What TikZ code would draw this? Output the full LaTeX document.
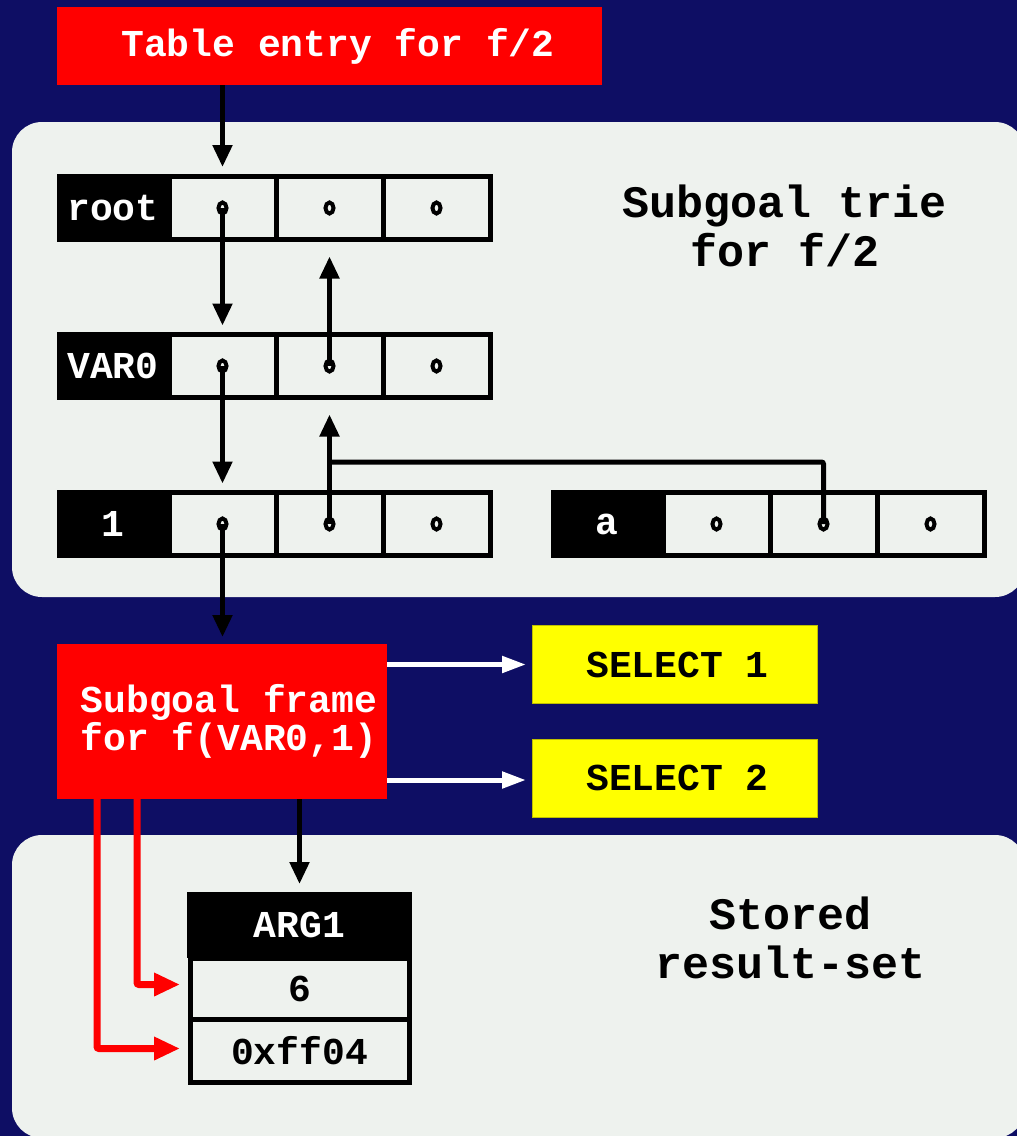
\documentclass[tikz,border=0pt]{standalone}
\usepackage{fontspec}
\setmonofont{Liberation Mono}
\usetikzlibrary{arrows.meta,calc}
\definecolor{navy}{HTML}{0E0E64}
\definecolor{panel}{HTML}{EEF2EE}
\definecolor{boxred}{HTML}{FF0000}
\definecolor{boxyellow}{HTML}{FFFF00}

\begin{document}
\begin{tikzpicture}[x=1pt,y=-1pt,
  txt/.style={font=\fontsize{38}{38}\selectfont\ttfamily\bfseries},
  bigtxt/.style={font=\fontsize{45}{49}\selectfont\ttfamily\bfseries, align=center, text=black},
  cellbox/.style={draw=black, line width=5pt, fill=panel, minimum width=107pt,
    minimum height=63pt, inner sep=0pt, outer sep=0pt},
  keylabel/.style={fill=black, text=white, txt, minimum width=112pt,
    minimum height=68pt, inner sep=0pt, outer sep=0pt},
  redbox/.style={fill=boxred, text=white, txt, inner sep=0pt, outer sep=0pt},
  yellowbox/.style={fill=boxyellow, draw=boxyellow!75!black, line width=0.8pt, text=black, txt,
    minimum width=285pt, minimum height=78pt, inner sep=0pt, outer sep=0pt},
  link/.style={draw=black, line width=5pt, -{Triangle[length=22pt,width=19pt]}},
  plainlink/.style={draw=black, line width=5pt, rounded corners=2pt},
  whitelink/.style={draw=white, line width=5pt, -{Triangle[length=24pt,width=16pt]}},
  redlink/.style={draw=boxred, line width=7pt, rounded corners=2pt, -{Triangle[length=26pt,width=22pt]}},
  dotmark/.style={draw=black, line width=4pt}
]
\useasboundingbox (0,0) rectangle (1017,1136);
\clip (0,0) rectangle (1017,1136);
\fill[navy] (0,0) rectangle (1017,1136);

% background panels
\fill[panel, rounded corners=30pt] (12,122) rectangle (1025,597);
\fill[panel, rounded corners=30pt] (12,835) rectangle (1025,1138);

% table entry
\node[redbox, minimum width=545pt, minimum height=78pt] (title) at (329.5,46)
  {\hspace*{17pt}Table entry for f/2};

% subgoal trie rows
\node[keylabel] (r1l) at (113,208) {root};
\node[cellbox] (r1a) at (222.5,208) {};
\node[cellbox] (r1b) at (329.5,208) {};
\node[cellbox] (r1c) at (436.5,208) {};

\node[keylabel] (r2l) at (113,366) {VAR0};
\node[cellbox] (r2a) at (222.5,366) {};
\node[cellbox] (r2b) at (329.5,366) {};
\node[cellbox] (r2c) at (436.5,366) {};

\node[keylabel] (r3l) at (113,524) {1};
\node[cellbox] (r3a) at (222.5,524) {};
\node[cellbox] (r3b) at (329.5,524) {};
\node[cellbox] (r3c) at (436.5,524) {};

\node[keylabel] (al) at (607,524) {a};
\node[cellbox] (aa) at (716.5,524) {};
\node[cellbox] (ab) at (823.5,524) {};
\node[cellbox] (ac) at (930.5,524) {};

\node[bigtxt] (trietxt) at (785,226) {Subgoal trie\\for f/2};

% subgoal frame and answer selectors
\node[redbox, minimum width=330pt, minimum height=155pt, align=left] (frame) at (222,721.5)
  {\hspace*{14pt}Subgoal frame\\\hspace*{14pt}for f(VAR0,1)};
\node[yellowbox] (sel1) at (674.5,664.5) {\hspace*{6pt}SELECT 1};
\node[yellowbox] (sel2) at (674.5,778) {\hspace*{6pt}SELECT 2};

% stored result set
\node[fill=black, text=white, txt, minimum width=225pt, minimum height=66pt,
  inner sep=0pt, outer sep=0pt] (arghead) at (299.5,925) {ARG1};
\node[cellbox, minimum width=219pt, minimum height=61pt, text=black, txt] (arg1) at (299.5,988.5) {6};
\node[cellbox, minimum width=219pt, minimum height=63pt, text=black, txt] (arg2) at (299.5,1050.5) {0xff04};
\node[bigtxt] (resulttxt) at (791,938) {Stored\\result-set};

% trie links
\draw[link, shorten >=9.5pt] (title.south -| r1a.center) -- (r1a.north);
\draw[link, shorten >=9pt] (r1a.center) -- (r2a.north);
\draw[link, shorten >=9pt] (r2a.center) -- (r3a.north);
\draw[link, shorten >=17pt] (r2b.center) -- (r1b.south);
\draw[link, shorten >=17pt] (r3b.center) -- (r2b.south);
\draw[plainlink] (ab.center) |- ($(r3b.center)+(0,-62)$);
\draw[link, shorten >=7pt] (r3a.center) -- (frame.north -| r3a.center);

% frame links
\draw[whitelink, shorten >=6pt] (frame.east |- sel1.west) -- (sel1.west);
\draw[whitelink, shorten >=6pt] ($(frame.east |- sel2.west)+(0,2)$) -- ($(sel2.west)+(0,2)$);
\draw[link, shorten >=8pt] (frame.south -| arghead.north) -- (arghead.north);
\draw[redlink, shorten >=10pt] ($(frame.south west)+(80,0)$) |- ([yshift=4pt]arg1.west);
\draw[redlink, shorten >=10pt] ($(frame.south west)+(40,0)$) |- ([yshift=2pt]arg2.west);

% pointer marks inside the trie cells
\foreach \c in {r1a,r1b,r1c,r2a,r2b,r2c,r3a,r3b,r3c,aa,ab,ac}
  \draw[dotmark] (\c.center) ellipse [x radius=4pt, y radius=5.5pt];
\end{tikzpicture}
\end{document}
